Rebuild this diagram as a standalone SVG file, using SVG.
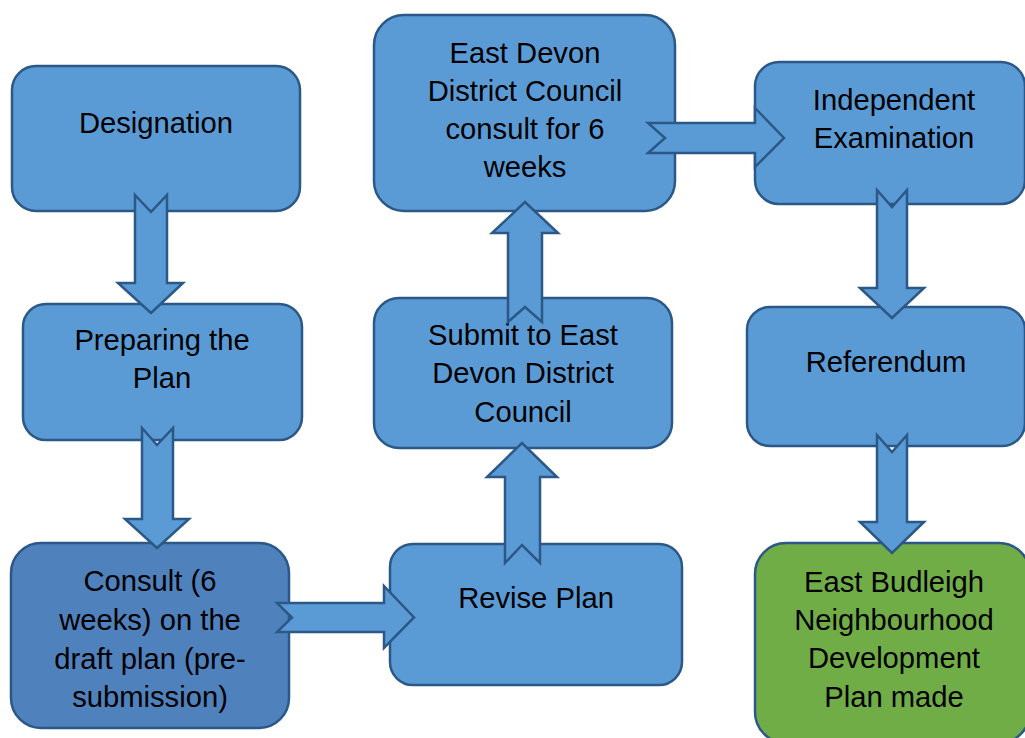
<svg xmlns="http://www.w3.org/2000/svg" width="1025" height="738" viewBox="0 0 1025 738">
<style>
.box{fill:#5b9bd5;stroke:#2b5886;stroke-width:2.5}
.dark{fill:#4f81bd}
.green{fill:#70ad47}
.arr{fill:#5b9bd5;stroke:#2b5886;stroke-width:2.5;stroke-linejoin:miter}
text{font-family:"Liberation Sans",Arial,sans-serif;font-size:29.2px;fill:#000;text-anchor:middle}
</style>
<rect width="1025" height="738" fill="#ffffff"/>
<g id="designation"><rect class="box" x="12" y="66" width="288" height="145" rx="24"/><text x="156" y="133">Designation</text></g>
<g id="preparing"><rect class="box" x="23" y="304" width="279" height="136" rx="23"/><text x="162" y="350">Preparing the</text><text x="162" y="388">Plan</text></g>
<g id="consult"><rect class="box dark" x="11" y="543" width="278" height="185" rx="30"/><text x="150" y="591">Consult (6</text><text x="150" y="630">weeks) on the</text><text x="150" y="669">draft plan (pre-</text><text x="150" y="707">submission)</text></g>
<g id="revise"><rect class="box" x="390" y="544" width="292" height="141" rx="23"/><text x="536" y="608">Revise Plan</text></g>
<g id="submit"><rect class="box" x="374" y="298" width="298" height="150" rx="25"/><text x="523" y="345">Submit to East</text><text x="523" y="383">Devon District</text><text x="523" y="422">Council</text></g>
<g id="eddc"><rect class="box" x="374" y="15" width="301" height="196" rx="30"/><text x="525" y="63">East Devon</text><text x="525" y="101">District Council</text><text x="525" y="139">consult for 6</text><text x="525" y="177">weeks</text></g>
<g id="examination"><rect class="box" x="755" y="62" width="270" height="142" rx="24"/><text x="894" y="110">Independent</text><text x="894" y="148">Examination</text></g>
<g id="referendum"><rect class="box" x="747" y="307" width="278" height="139" rx="23"/><text x="886" y="372">Referendum</text></g>
<g id="made"><rect class="box green" x="755" y="543" width="275" height="200" rx="31"/><text x="894" y="592">East Budleigh</text><text x="894" y="630">Neighbourhood</text><text x="894" y="668">Development</text><text x="894" y="707">Plan made</text></g>
<g id="connectors">
<polygon class="arr" points="135,195 151,212 167,195 167,283 183,283 151,313 118,283 135,283"/>
<polygon class="arr" points="142,428 157,445 173,428 173,519 189,519 157,548 125,519 142,519"/>
<polygon class="arr" points="277,603 384,603 384,586 414,617.5 384,648 384,632 277,632 292,617.5"/>
<polygon class="arr" points="505,563 522,545 540,563 540,477 557,477 522,443 487,477 505,477"/>
<polygon class="arr" points="508,322 525,307 542,322 542,233 558,233 525,202 492,233 508,233"/>
<polygon class="arr" points="648,123 755,123 755,108 784,138 755,167 755,153 648,153 665,138"/>
<polygon class="arr" points="877,190 892,207 907,190 907,288 924,288 892,318 860,288 877,288"/>
<polygon class="arr" points="877,435 892,452 907,435 907,522 924,522 892,553 860,522 877,522"/>
</g>
</svg>
